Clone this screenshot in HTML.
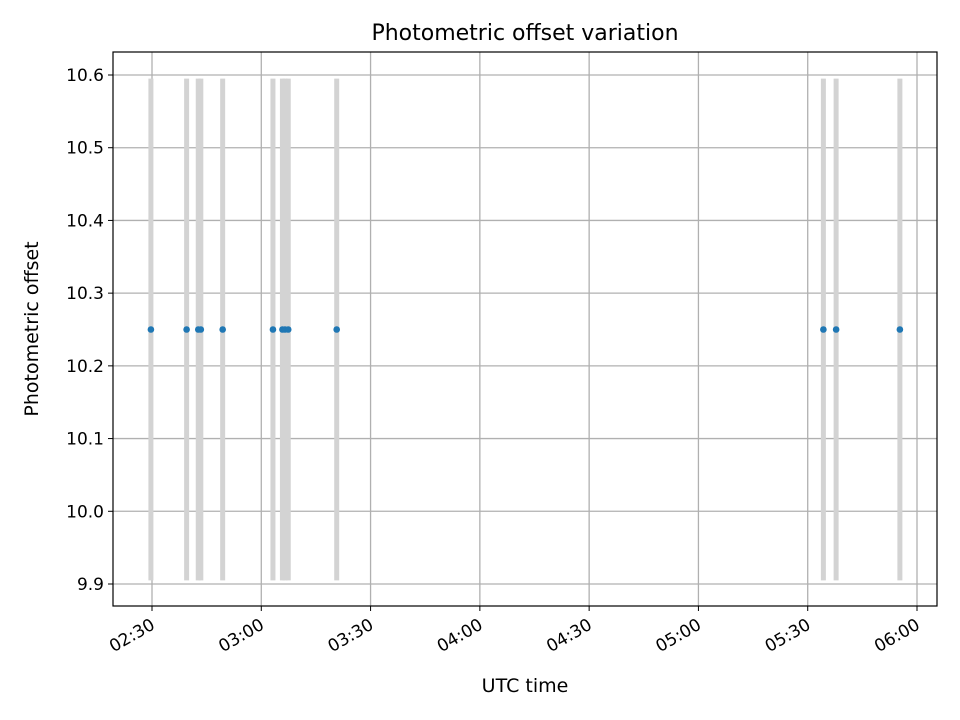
<!DOCTYPE html>
<html><head><meta charset="utf-8"><style>body{margin:0;background:#fff}svg{display:block;font-family:"DejaVu Sans","Liberation Sans",sans-serif}</style></head>
<body>
<svg id="chart" width="960" height="720" xmlns="http://www.w3.org/2000/svg">
<rect width="960" height="720" fill="#fff"/>
<g id="grid"></g><g id="spans"></g><g id="points"></g><g id="axes"></g>
<text x="525" y="40" text-anchor="middle" font-size="22">Photometric offset variation</text>
<text x="525" y="692" text-anchor="middle" font-size="19">UTC time</text>
<text transform="translate(38,329) rotate(-90)" text-anchor="middle" font-size="19">Photometric offset</text>
</svg>
<script>
// minutes after 02:30 UTC
const times = [-0.3, 9.5, 12.7, 13.4, 19.4, 33.2, 35.8, 36.5, 37.4, 50.7, 184.3, 187.8, 205.3];
const offsets = [10.25,10.25,10.25,10.25,10.25,10.25,10.25,10.25,10.25,10.25,10.25,10.25,10.25];
const xTickMinutes = [0,30,60,90,120,150,180,210];
const xTickLabels = ["02:30","03:00","03:30","04:00","04:30","05:00","05:30","06:00"];
const yTicks = [9.9,10.0,10.1,10.2,10.3,10.4,10.5,10.6];
const spanLow = 9.905, spanHigh = 10.595;

const NS="http://www.w3.org/2000/svg";
const L=113,R=937,T=52,B=606;
const xs=m=>152+m*(917-152)/210;
const ys=v=>584-(v-9.9)*(584-75)/0.7;
function mk(tag,attrs,parent){const e=document.createElementNS(NS,tag);for(const k in attrs)e.setAttribute(k,attrs[k]);parent.appendChild(e);return e;}
const grid=document.getElementById('grid'),spans=document.getElementById('spans'),pts=document.getElementById('points'),axes=document.getElementById('axes');
xTickMinutes.forEach((m,i)=>{
  const x=xs(m);
  const g=mk('line',{x1:x,x2:x,y1:T,y2:B,stroke:'#b0b0b0','stroke-width':1.3},grid);
  
  
  mk('line',{x1:x,x2:x,y1:B,y2:B+5,stroke:'#000'},axes);
  const t=mk('text',{x:x+4,y:B+22,'text-anchor':'end','font-size':17,transform:`rotate(-30 ${x+4} ${B+22})`},axes);
  t.textContent=xTickLabels[i];
  
  
});
yTicks.forEach(v=>{
  const y=ys(v);
  const g=mk('line',{x1:L,x2:R,y1:y,y2:y,stroke:'#b0b0b0','stroke-width':1.3},grid);
  
  
  mk('line',{x1:L-5,x2:L,y1:y,y2:y,stroke:'#000'},axes);
  const t=mk('text',{x:L-9,y:y+6,'text-anchor':'end','font-size':17},axes);
  t.textContent=v.toFixed(1);
  
  
});
times.forEach((m,i)=>{
  const x=xs(m);
  const s=mk('rect',{x:x-2.5,y:ys(spanHigh),width:5,height:ys(spanLow)-ys(spanHigh),fill:'#d3d3d3'},spans);
  
  
  const c=mk('circle',{cx:x,cy:ys(offsets[i]),r:3.3,fill:'#1f77b4'},pts);
  
  
});
const f=mk('rect',{x:L,y:T,width:R-L,height:B-T,fill:'none',stroke:'#000','stroke-width':1.2},axes);


</script>
</body></html>
